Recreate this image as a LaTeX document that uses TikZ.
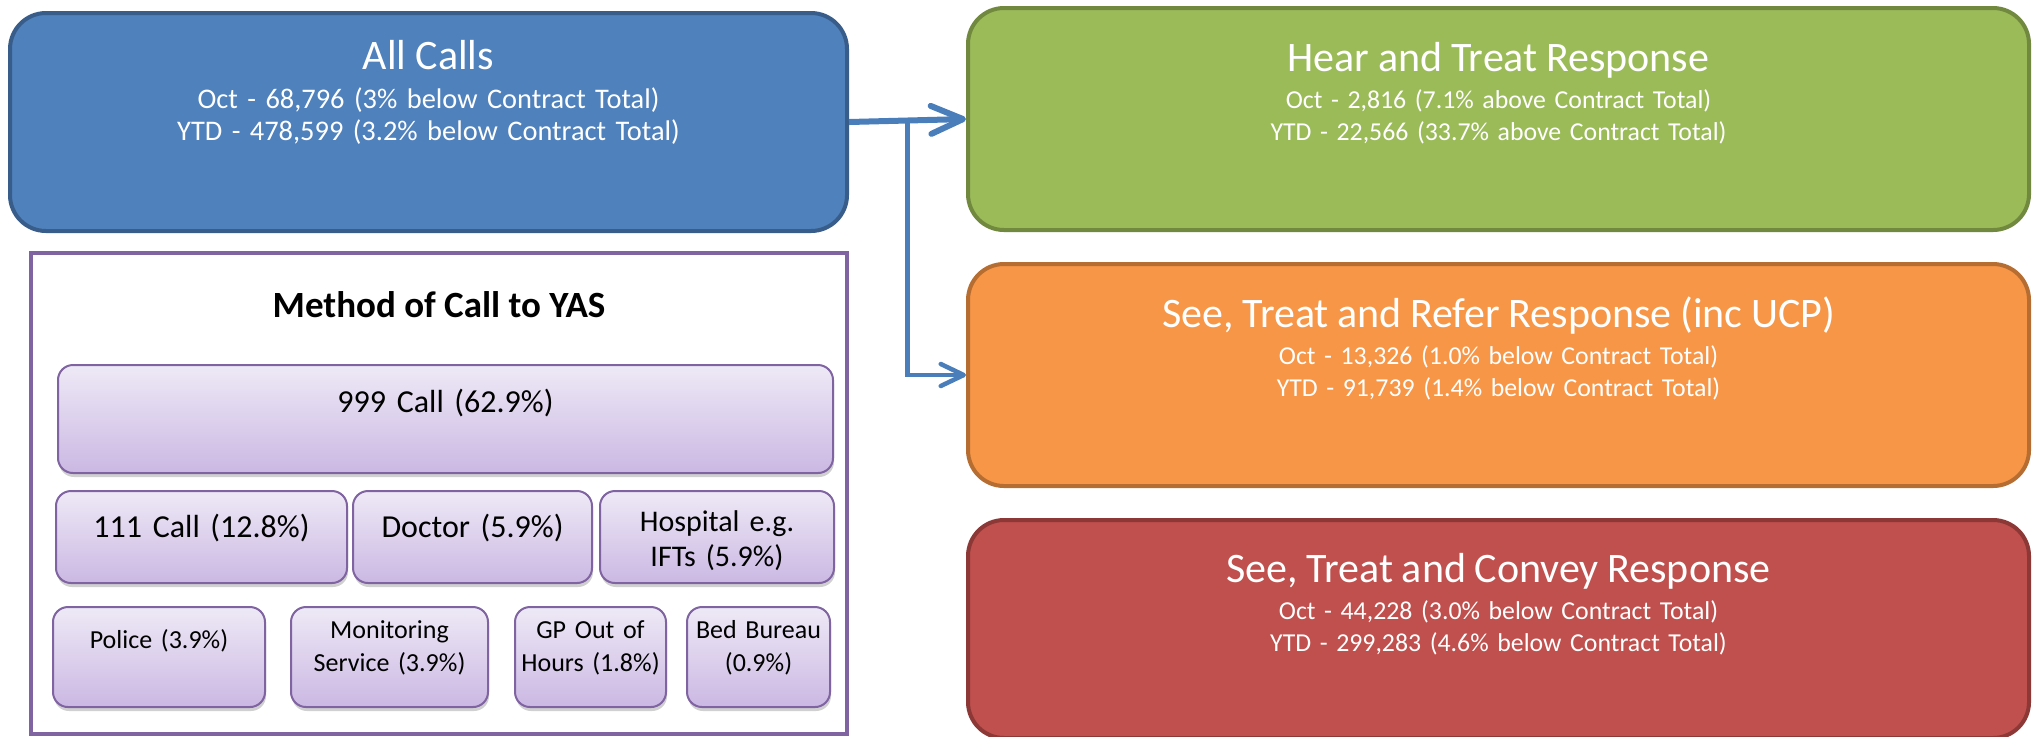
\documentclass[tikz,border=0pt]{standalone}
\usepackage{fontspec}
\setmainfont{Carlito}
\usetikzlibrary{positioning, arrows.meta, shadows}

\definecolor{allblue}{HTML}{4F81BD}
\definecolor{allblueline}{HTML}{385D8A}
\definecolor{heargreen}{HTML}{9BBB59}
\definecolor{heargreenline}{HTML}{71893F}
\definecolor{referorange}{HTML}{F79646}
\definecolor{referorangeline}{HTML}{B66D31}
\definecolor{conveyred}{HTML}{C0504D}
\definecolor{conveyredline}{HTML}{8C3836}
\definecolor{methodpurple}{HTML}{8064A2}
\definecolor{methodtop}{HTML}{EEE9F6}
\definecolor{methodbottom}{HTML}{CBB8E3}
\definecolor{arrowblue}{HTML}{4A7EBB}

\newcommand{\headsize}{\fontsize{21}{25}\selectfont}
\newcommand{\leftsub}{\fontsize{14.2}{16}\selectfont}
\newcommand{\rightsub}{\fontsize{12.9}{16}\selectfont}
\newcommand{\groupsize}{\fontsize{18.5}{22}\selectfont\bfseries}
\newcommand{\rowsize}{\fontsize{16}{19}\selectfont}
\newcommand{\hospsize}{\fontsize{15}{17.5}\selectfont}
\newcommand{\lowsize}{\fontsize{13}{16.5}\selectfont}

\tikzstyle{allbox} =
[
	rectangle
	, rounded corners=18pt
	, minimum width=418.5pt
	, minimum height=109pt
	, text width=418.5pt
	, inner sep=0pt
	, align=center
	, text height=0pt
	, line width=2pt
	, text=white
	, font=\leftsub
]
\tikzstyle{respbox} =
[
	rectangle
	, rounded corners=18pt
	, minimum width=530.5pt
	, minimum height=111pt
	, text width=530.5pt
	, inner sep=0pt
	, align=center
	, text height=0pt
	, text depth=48pt
	, line width=2pt
	, text=white
	, font=\rightsub
]
\tikzstyle{groupbox} =
[
	rectangle
	, minimum width=408pt
	, minimum height=240.5pt
	, inner sep=0pt
	, text height=0pt
	, line width=2pt
	, draw=methodpurple
	, fill=white
	, font=\groupsize
]
\tikzstyle{methodbox} =
[
	rectangle
	, rounded corners=7.5pt
	, inner sep=0pt
	, align=center
	, text height=0pt
	, line width=1pt
	, draw=methodpurple
	, top color=methodtop
	, bottom color=methodbottom
	, drop shadow={shadow xshift=0.5pt, shadow yshift=-2pt, opacity=0.3, fill=black!60}
]
\tikzset{mwidth/.style={minimum width=#1, text width=#1}}
\tikzstyle{arrow} = [draw=arrowblue, line width=3pt, -{Straight Barb[length=16pt, width=14pt, round]}]
\tikzstyle{arrow2} = [draw=arrowblue, line width=2.25pt, -{Straight Barb[length=11.5pt, width=11pt, round]}]

\begin{document}
\begin{tikzpicture}[x=0.5pt, y=-0.5pt]
\useasboundingbox (0,0) rectangle (2037,736);

\node(allcalls)[allbox, draw=allblueline, fill=allblue, text depth=53pt] at (428.5,122)
{{\headsize All Calls\par}\vspace{3.5pt}Oct - 68,796 (3\% below Contract Total)\\YTD - 478,599 (3.2\% below Contract Total)};

\node(hear)[respbox, draw=heargreenline, fill=heargreen] at (1498.5,119)
{{\headsize Hear and Treat Response\par}\vspace{2.5pt}Oct - 2,816 (7.1\% above Contract Total)\\YTD - 22,566 (33.7\% above Contract Total)};
\node(refer)[respbox, draw=referorangeline, fill=referorange, below=15pt of hear]
{{\headsize See, Treat and Refer Response (inc UCP)\par}\vspace{2.5pt}Oct - 13,326 (1.0\% below Contract Total)\\YTD - 91,739 (1.4\% below Contract Total)};
\node(convey)[respbox, draw=conveyredline, fill=conveyred, below=15pt of refer, minimum height=109pt, text depth=46.5pt]
{{\headsize See, Treat and Convey Response\par}\vspace{2.5pt}Oct - 44,228 (3.0\% below Contract Total)\\YTD - 299,283 (4.6\% below Contract Total)};

% method of call
\node(method)[groupbox, text depth=176.5pt] at (439,493.5) {Method of Call to YAS};

\node(call999)[methodbox, mwidth=387.5pt, minimum height=54pt, text depth=7pt, font=\rowsize] at (445.5,419) {999 Call (62.9\%)};
\node(call111)[methodbox, mwidth=145.5pt, minimum height=46pt, text depth=0pt, font=\rowsize] at (201.5,537) {111 Call (12.8\%)};
\node(doctor)[methodbox, mwidth=119.5pt, minimum height=46pt, text depth=0pt, font=\rowsize, right=2pt of call111] {Doctor (5.9\%)};
\node(hospital)[methodbox, mwidth=117pt, minimum height=46pt, text depth=5.5pt, font=\hospsize, right=3pt of doctor] {Hospital e.g.\\IFTs (5.9\%)};
\node(police)[methodbox, mwidth=106pt, minimum height=50pt, text depth=8.7pt, font=\lowsize] at (159,657) {Police (3.9\%)};
\node(monitor)[methodbox, mwidth=98.5pt, minimum height=50pt, text depth=18.7pt, font=\lowsize, right=12pt of police] {Monitoring\\Service (3.9\%)};
\node(gpooh)[methodbox, mwidth=75.5pt, minimum height=50pt, text depth=18.7pt, font=\lowsize, right=12.5pt of monitor] {GP Out of\\Hours (1.8\%)};
\node(bed)[methodbox, mwidth=71.5pt, minimum height=50pt, text depth=18.7pt, font=\lowsize, right=9.5pt of gpooh] {Bed Bureau\\(0.9\%)};

\draw[arrow](allcalls.east) -- coordinate[midway](split) (hear.west);
\draw[arrow2](split) |- (refer.west);

\end{tikzpicture}
\end{document}
